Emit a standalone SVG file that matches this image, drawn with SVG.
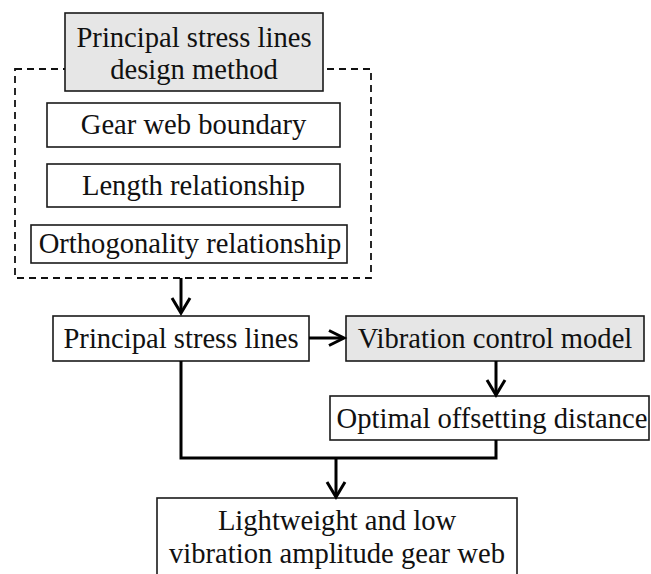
<svg xmlns="http://www.w3.org/2000/svg" width="651" height="574" viewBox="0 0 651 574">
<style>
.box{fill:#fff;stroke:#1a1a1a;stroke-width:1.6}
.gray{fill:#e6e6e6;stroke:#1a1a1a;stroke-width:1.6}
.t{font-family:"Liberation Serif","Times New Roman",serif;font-size:28.6px;fill:#111;text-anchor:middle}
.c{fill:none;stroke:#000;stroke-width:3}
.ah{fill:none;stroke:#000;stroke-width:3;stroke-linejoin:miter}
</style>
<rect width="651" height="574" fill="#fff"/>
<g id="container">
<rect x="15" y="69" width="356" height="209" fill="none" stroke="#111" stroke-width="1.8" stroke-dasharray="7,5"/>
</g>
<g id="n-method">
<rect class="gray" x="65" y="13" width="258" height="78"/>
<text class="t" x="194" y="47">Principal stress lines</text>
<text class="t" x="194" y="79">design method</text>
</g>
<g id="n-boundary">
<rect class="box" x="47" y="103" width="293" height="44"/>
<text class="t" x="193.5" y="134">Gear web boundary</text>
</g>
<g id="n-length">
<rect class="box" x="47" y="164" width="293" height="43"/>
<text class="t" x="193.5" y="195">Length relationship</text>
</g>
<g id="n-ortho">
<rect class="box" x="31" y="225" width="316" height="38"/>
<text class="t" x="190" y="253">Orthogonality relationship</text>
</g>
<g id="n-psl">
<rect class="box" x="53" y="316" width="256" height="45"/>
<text class="t" x="181" y="348">Principal stress lines</text>
</g>
<g id="n-vcm">
<rect class="gray" x="346" y="316" width="298" height="45"/>
<text class="t" x="495" y="348">Vibration control model</text>
</g>
<g id="n-ood">
<rect class="box" x="330" y="396" width="319" height="44"/>
<text class="t" x="492" y="428">Optimal offsetting distance</text>
</g>
<g id="n-result">
<rect class="box" x="157" y="498" width="360" height="90"/>
<text class="t" x="337" y="530">Lightweight and low</text>
<text class="t" x="337" y="563">vibration amplitude gear web</text>
</g>
<g id="connectors">
<path class="c" d="M181 278 V312"/>
<path class="ah" d="M172 298 L181 313 L190 298"/>
<path class="c" d="M309 338 H343"/>
<path class="ah" d="M329 330.5 L344 338 L329 345.5"/>
<path class="c" d="M496 361 V394"/>
<path class="ah" d="M487 380 L496 395 L505 380"/>
<path class="c" d="M181 361 V458 H496 V440"/>
<path class="c" d="M336 458 V495"/>
<path class="ah" d="M327 482 L336 497 L345 482"/>
</g>
</svg>
